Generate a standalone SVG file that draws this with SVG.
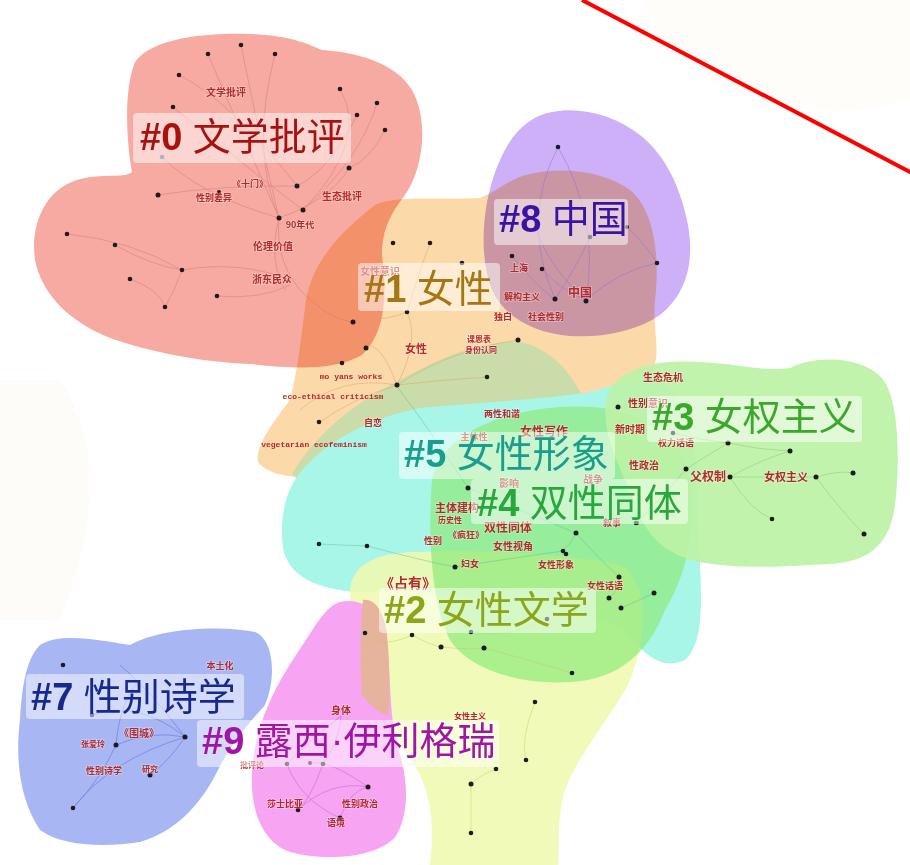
<svg xmlns="http://www.w3.org/2000/svg" width="910" height="865" viewBox="0 0 910 865">
<style>
.hull{stroke:none}
.mul{mix-blend-mode:multiply}
.e{fill:none;stroke-width:0.8;opacity:0.55}
.d{fill:#1c1c1c}
.sl{font-family:"Noto Sans CJK SC",sans-serif;font-weight:bold;fill:#b42a2a;text-anchor:middle;paint-order:stroke;stroke:#fff;stroke-opacity:0.35;stroke-width:1.5}
.en{font-family:"Liberation Mono",monospace;font-weight:bold;font-size:8px;fill:#b42a2a;text-anchor:middle}
.bg{fill:#fff;opacity:0.5}
.cl{font-family:"Liberation Sans","Noto Sans CJK SC",sans-serif;font-size:38px}
.n{font-weight:bold}
</style>
<rect width="910" height="865" fill="#fff"/>
<g id="watermark">
<path d="M0,380 L60,380 Q120,470 60,620 L0,620 Z" fill="#fdfcf8"/>
<path d="M640,0 Q700,120 860,110 L910,100 L910,0 Z" fill="#fefdfa"/>
</g>
<g id="hulls">
<path id="hull-0" class="hull" fill="#f6aaa2" d="M135,62 C150,40 200,32 250,34 C285,35 305,42 322,50 C355,52 395,62 412,90 C428,118 425,165 405,195 C392,212 382,228 382,255 C386,290 388,330 362,355 C332,372 290,368 250,364 C200,362 150,352 110,338 C70,322 42,295 35,260 C30,225 45,185 85,178 C105,174 125,178 132,172 C128,150 122,95 135,62 Z"/>
<path id="hull-8" class="hull" fill="#cdb0f8" d="M552,112 C580,106 615,115 640,135 C665,155 680,185 688,225 C695,265 685,295 660,315 C635,332 600,338 570,336 C535,333 505,318 492,290 C478,255 482,200 500,160 C512,132 530,116 552,112 Z"/>
<path id="hull-1" class="hull mul" fill="#fcd9a9" d="M375,205 C395,195 440,200 480,198 C500,190 510,178 530,174 C565,166 605,172 630,190 C655,210 660,260 655,300 C652,330 662,352 652,372 C640,392 610,398 585,398 C540,420 420,460 330,476 C300,480 268,476 258,462 C255,445 275,420 290,400 C298,370 302,330 306,300 C312,268 330,240 375,205 Z"/>
<path id="hull-band" class="hull" fill="#c9dca9" d="M292,474 C318,430 360,400 400,380 C440,358 480,340 520,342 C550,348 572,372 585,402 L570,440 L320,500 Z"/>
<path id="hull-5" class="hull" fill="#a8f6e8" d="M283,548 C278,510 290,480 307,465 C330,440 370,418 420,408 C480,402 540,400 590,392 C620,385 640,372 655,378 C690,395 700,450 698,520 C700,580 708,640 685,660 C660,672 640,650 625,630 C560,600 430,590 360,592 C315,590 288,575 283,548 Z"/>
<path id="hull-2" class="hull" fill="#eff9ae" opacity="0.88" d="M350,590 C352,565 375,553 415,552 C470,550 560,552 620,565 C650,580 648,640 628,685 C605,725 578,755 565,790 C556,820 560,850 558,865 L430,865 C434,830 432,800 420,775 C405,745 385,730 372,715 C362,700 360,670 360,650 C358,625 350,610 350,590 Z"/>
<path id="hull-4" class="hull" fill="#8eea7a" opacity="0.7" d="M432,480 C440,440 490,412 560,407 C620,403 665,420 685,460 C700,510 690,570 665,610 C650,650 620,680 570,682 C520,685 470,670 450,640 C430,600 428,530 432,480 Z"/>
<path id="hull-3" class="hull" fill="#bdf2a6" opacity="0.92" d="M610,390 C625,365 660,360 700,362 C740,364 765,372 790,368 C815,355 862,356 882,378 C900,400 900,465 895,505 C890,545 868,562 830,564 C790,566 740,570 700,562 C670,556 650,540 640,515 C628,485 612,455 607,430 C604,410 605,398 610,390 Z"/>
<path id="hull-7" class="hull" fill="#a9b6f4" d="M40,645 C60,632 100,640 130,645 C160,628 220,625 255,632 C275,640 276,680 265,705 C250,722 232,742 218,770 C203,800 180,830 140,842 C100,848 60,845 40,830 C20,800 15,760 20,720 C22,690 25,660 40,645 Z"/>
<path id="hull-9" class="hull" fill="#f7a4f2" d="M340,602 C368,596 385,618 388,655 C391,690 390,720 398,748 C408,778 410,812 396,836 C378,858 325,862 290,852 C262,842 250,810 252,772 C254,730 272,690 298,652 C313,630 325,606 340,602 Z"/>
<path id="hull-9-2" class="hull" fill="#e6b49c" d="M363,600 C375,598 384,612 387,635 C390,665 390,695 388,716 C378,712 368,704 362,694 C360,665 360,630 363,600 Z"/>
</g>
<g id="connectors">
<g class="e" stroke="#d0707a">
<path d="M208,54 Q240,130 279,218"/><path d="M241,45 Q260,140 279,218"/><path d="M275,54 Q250,150 279,218"/>
<path d="M179,75 Q230,100 297,186"/><path d="M173,107 Q250,170 303,210"/><path d="M340,89 Q370,140 303,210"/>
<path d="M377,103 Q360,160 303,210"/><path d="M357,115 Q330,170 297,186"/><path d="M385,130 Q370,160 349,168"/>
<path d="M349,168 Q330,200 279,218"/><path d="M162,157 Q200,195 279,218"/><path d="M158,195 Q220,185 297,186"/>
<path d="M279,218 Q275,260 300,290 Q330,320 353,322"/><path d="M67,234 Q130,240 182,270"/><path d="M115,245 Q150,265 182,270"/>
<path d="M130,279 Q160,290 165,307"/><path d="M182,270 Q175,290 165,307"/><path d="M182,270 Q240,260 290,280"/>
<path d="M217,296 Q260,300 290,285"/><path d="M279,218 Q268,260 285,290"/>
</g>
<g class="e" stroke="#8a6ad0">
<path d="M558,147 Q520,220 555,299"/><path d="M558,147 Q600,220 586,300"/><path d="M530,207 Q540,260 586,300"/>
<path d="M590,237 Q575,270 555,299"/><path d="M657,263 Q620,270 586,300"/><path d="M627,227 Q650,250 657,263"/>
<path d="M512,256 Q540,290 555,299"/><path d="M542,269 Q560,290 586,300"/>
</g>
<g class="e" stroke="#e0985a">
<path d="M397,385 Q380,340 366,347"/><path d="M397,385 Q420,340 407,312"/><path d="M397,385 Q350,400 320,422"/>
<path d="M397,385 Q440,380 487,377"/><path d="M397,385 Q340,375 300,410"/><path d="M407,312 Q420,270 430,243"/>
<path d="M353,321 Q390,320 407,312"/><path d="M397,385 Q450,350 518,340"/>
</g>
<g class="e" stroke="#7cc46a">
<path d="M730,477 Q760,460 790,451"/><path d="M730,477 L816,477"/><path d="M816,477 Q840,470 853,473"/>
<path d="M730,477 Q750,510 772,519"/><path d="M816,477 Q840,510 864,534"/><path d="M728,443 Q700,460 686,469"/>
<path d="M728,443 Q760,450 790,451"/><path d="M686,469 Q660,500 636,523"/><path d="M673,433 Q700,440 728,443"/>
</g>
<g class="e" stroke="#5cb894">
<path d="M468,488 Q520,510 576,533"/><path d="M576,533 Q570,545 563,551"/><path d="M455,567 Q500,560 563,551"/>
<path d="M576,533 Q600,560 619,577"/><path d="M609,598 Q620,590 619,577"/><path d="M621,608 Q640,600 654,593"/>
<path d="M319,544 Q340,545 367,546"/><path d="M367,546 Q420,560 455,567"/><path d="M396,385 Q430,430 468,488"/>
</g>
<g class="e" stroke="#c0c860">
<path d="M412,635 Q430,645 441,647"/><path d="M441,647 Q470,650 484,648"/><path d="M471,632 Q510,640 547,618"/>
<path d="M484,648 Q530,660 572,673"/><path d="M535,702 Q520,740 526,760"/><path d="M471,784 L471,833"/>
<path d="M496,769 Q480,775 471,784"/><path d="M365,633 Q380,650 412,635"/>
</g>
<g class="e" stroke="#4a5ad8">
<path d="M185,737 Q150,730 116,745"/><path d="M185,737 Q170,760 150,775"/><path d="M185,737 Q140,700 92,715"/>
<path d="M185,737 Q110,760 73,808"/><path d="M116,745 Q100,780 73,808"/><path d="M185,737 Q150,690 120,665"/>
<path d="M116,745 Q120,700 140,680"/>
</g>
<g class="e" stroke="#c050c8">
<path d="M287,764 Q300,800 340,818"/><path d="M323,764 Q310,800 298,810"/><path d="M298,810 Q330,780 368,787"/>
<path d="M340,818 Q350,790 368,787"/><path d="M310,763 Q330,760 368,787"/><path d="M341,716 Q310,740 287,764"/>
<path d="M341,716 Q340,740 323,764"/>
</g>
</g>
<g id="kw-0">
<g class="d"><circle cx="208" cy="54" r="2.3"/><circle cx="241" cy="45" r="2.3"/><circle cx="275" cy="54" r="2.3"/><circle cx="179" cy="75" r="2.3"/><circle cx="173" cy="107" r="2.3"/><circle cx="340" cy="89" r="2.3"/><circle cx="377" cy="103" r="2.3"/><circle cx="357" cy="115" r="2.3"/><circle cx="385" cy="130" r="2.3"/><circle cx="162" cy="157" r="2.3" fill="#5a6a8a"/><circle cx="349" cy="168" r="2.5"/><circle cx="297" cy="186" r="2.5"/><circle cx="158" cy="195" r="2.5"/><circle cx="303" cy="210" r="2.5"/><circle cx="279" cy="218" r="2.5"/><circle cx="67" cy="234" r="2.3"/><circle cx="115" cy="245" r="2.3"/><circle cx="182" cy="270" r="2.3"/><circle cx="130" cy="279" r="2.3"/><circle cx="217" cy="296" r="2.3"/><circle cx="165" cy="307" r="2.3"/><circle cx="353" cy="322" r="2.5"/><circle cx="366" cy="348" r="2.5"/><circle cx="219" cy="192" r="2"/></g>
<text class="sl" x="226" y="96" font-size="10">文学批评</text>
<text class="sl" x="250" y="187" font-size="9">《十门》</text>
<text class="sl" x="214" y="201" font-size="9">性别差异</text>
<text class="sl" x="342" y="200" font-size="10">生态批评</text>
<text class="sl" x="300" y="228" font-size="9">90年代</text>
<text class="sl" x="273" y="250" font-size="10">伦理价值</text>
<text class="sl" x="272" y="283" font-size="10">浙东民众</text>
</g>
<g id="kw-1">
<g class="d"><circle cx="393" cy="243" r="2.3"/><circle cx="430" cy="243" r="2.3"/><circle cx="462" cy="263" r="2.3"/><circle cx="407" cy="312" r="2.3"/><circle cx="342" cy="363" r="2.3"/><circle cx="518" cy="340" r="2.5"/><circle cx="487" cy="377" r="2.3"/><circle cx="397" cy="385" r="2.5"/><circle cx="319" cy="422" r="2.3"/></g>
<text class="sl" x="380" y="275" font-size="10">女性意识</text>
<text class="sl" x="416" y="353" font-size="11">女性</text>
<text class="sl" x="479" y="342" font-size="8">课思表</text>
<text class="sl" x="481" y="353" font-size="8">身份认同</text>
<text class="en" x="351" y="379">mo yans works</text>
<text class="en" x="333" y="399">eco-ethical criticism</text>
<text class="sl" x="373" y="426" font-size="9">自恋</text>
<text class="en" x="314" y="447">vegetarian ecofeminism</text>
</g>
<g id="kw-8">
<g class="d"><circle cx="558" cy="147" r="2.3"/><circle cx="530" cy="207" r="2"/><circle cx="627" cy="227" r="2"/><circle cx="590" cy="237" r="2.3"/><circle cx="512" cy="256" r="2.3"/><circle cx="657" cy="263" r="2.3"/><circle cx="542" cy="269" r="2.3"/><circle cx="555" cy="299" r="2.5"/><circle cx="586" cy="301" r="2.5"/></g>
<text class="sl" x="519" y="271" font-size="9">上海</text>
<text class="sl" x="522" y="300" font-size="9">解构主义</text>
<text class="sl" x="580" y="297" font-size="12">中国</text>
<text class="sl" x="503" y="320" font-size="9">独白</text>
<text class="sl" x="546" y="320" font-size="9">社会性别</text>
</g>
<g id="kw-3">
<g class="d"><circle cx="618" cy="407" r="2.5"/><circle cx="673" cy="433" r="2.3"/><circle cx="728" cy="443" r="2.5"/><circle cx="790" cy="451" r="2.5"/><circle cx="686" cy="469" r="2.5"/><circle cx="730" cy="477" r="2.5"/><circle cx="816" cy="477" r="2.5"/><circle cx="853" cy="473" r="2.5"/><circle cx="772" cy="519" r="2.3"/><circle cx="864" cy="534" r="2.5"/><circle cx="636" cy="523" r="2.3"/></g>
<text class="sl" x="663" y="381" font-size="10">生态危机</text>
<text class="sl" x="648" y="407" font-size="10">性别意识</text>
<text class="sl" x="630" y="433" font-size="10">新时期</text>
<text class="sl" x="676" y="446" font-size="9">权力话语</text>
<text class="sl" x="644" y="469" font-size="10">性政治</text>
<text class="sl" x="708" y="481" font-size="12">父权制</text>
<text class="sl" x="786" y="481" font-size="11">女权主义</text>
</g>
<g id="kw-5">
<g class="d"><circle cx="468" cy="488" r="2.5"/><circle cx="576" cy="533" r="2.5"/><circle cx="563" cy="551" r="2.3"/><circle cx="566" cy="554" r="2.3"/><circle cx="455" cy="567" r="2.5"/><circle cx="319" cy="544" r="2.3"/><circle cx="367" cy="546" r="2.3"/><circle cx="637" cy="523" r="2"/></g>
<text class="sl" x="502" y="417" font-size="9">两性和谐</text>
<text class="sl" x="544" y="436" font-size="12">女性写作</text>
<text class="sl" x="474" y="440" font-size="9">主体性</text>
<text class="sl" x="509" y="487" font-size="10">影响</text>
<text class="sl" x="593" y="483" font-size="10">战争</text>
<text class="sl" x="457" y="512" font-size="11">主体建构</text>
<text class="sl" x="450" y="523" font-size="8">历史性</text>
<text class="sl" x="508" y="532" font-size="12">双性同体</text>
<text class="sl" x="466" y="538" font-size="9">《疯狂》</text>
<text class="sl" x="433" y="544" font-size="9">性别</text>
<text class="sl" x="513" y="550" font-size="10">女性视角</text>
<text class="sl" x="470" y="567" font-size="9">妇女</text>
<text class="sl" x="556" y="568" font-size="9">女性形象</text>
<text class="sl" x="612" y="526" font-size="9">叙事</text>
<text class="sl" x="605" y="589" font-size="9">女性话语</text>
<text class="sl" x="408" y="588" font-size="14">《占有》</text>
</g>
<g id="kw-2">
<g class="d"><circle cx="619" cy="577" r="2.5"/><circle cx="609" cy="598" r="2.5"/><circle cx="621" cy="608" r="2.5"/><circle cx="654" cy="593" r="2.5"/><circle cx="547" cy="619" r="2.3"/><circle cx="471" cy="632" r="2.3"/><circle cx="412" cy="635" r="2.3"/><circle cx="365" cy="633" r="2.3"/><circle cx="441" cy="647" r="2.5"/><circle cx="484" cy="648" r="2.5"/><circle cx="572" cy="673" r="2.3"/><circle cx="535" cy="702" r="2.3"/><circle cx="526" cy="760" r="2.3"/><circle cx="496" cy="769" r="2.3"/><circle cx="471" cy="784" r="2.5"/><circle cx="471" cy="833" r="2.3"/></g>
<text class="sl" x="470" y="719" font-size="8">女性主义</text>
</g>
<g id="kw-7">
<g class="d"><circle cx="63" cy="665" r="2.3"/><circle cx="92" cy="715" r="2.3"/><circle cx="116" cy="745" r="2.5"/><circle cx="185" cy="737" r="2.5"/><circle cx="150" cy="775" r="2.5"/><circle cx="73" cy="808" r="2.3"/></g>
<text class="sl" x="220" y="669" font-size="9">本土化</text>
<text class="sl" x="139" y="737" font-size="10">《围城》</text>
<text class="sl" x="93" y="747" font-size="8">张爱玲</text>
<text class="sl" x="104" y="774" font-size="9">性别诗学</text>
<text class="sl" x="150" y="772" font-size="8">研究</text>
</g>
<g id="kw-9">
<g class="d"><circle cx="287" cy="764" r="2.3"/><circle cx="310" cy="763" r="2"/><circle cx="323" cy="764" r="2.3"/><circle cx="368" cy="787" r="2.5"/><circle cx="298" cy="810" r="2.3"/><circle cx="340" cy="818" r="2.5"/></g>
<text class="sl" x="341" y="714" font-size="10">身体</text>
<text class="sl" x="252" y="768" font-size="8">批评论</text>
<text class="sl" x="285" y="807" font-size="9">莎士比亚</text>
<text class="sl" x="360" y="807" font-size="9">性别政治</text>
<text class="sl" x="336" y="826" font-size="9">语境</text>
</g>
<g id="cluster-0"><rect class="bg" x="133" y="113" width="218" height="50" rx="4"/><text class="cl" x="140" y="150" fill="#a8120e"><tspan class="n">#0</tspan> 文学批评</text></g>
<g id="cluster-8"><rect class="bg" x="494" y="199" width="134" height="46" rx="4"/><text class="cl" x="499" y="232" fill="#3a12a6"><tspan class="n">#8</tspan> 中国</text></g>
<g id="cluster-1"><rect class="bg" x="358" y="263" width="142" height="48" rx="4"/><text class="cl" x="364" y="302" fill="#a67614"><tspan class="n">#1</tspan> 女性</text></g>
<g id="cluster-3"><rect class="bg" x="647" y="396" width="215" height="46" rx="4"/><text class="cl" x="652" y="430" fill="#3aa82a"><tspan class="n">#3</tspan> 女权主义</text></g>
<g id="cluster-5"><rect class="bg" x="399" y="432" width="216" height="47" rx="4"/><text class="cl" x="404" y="467" fill="#189e8e"><tspan class="n">#5</tspan> 女性形象</text></g>
<g id="cluster-4"><rect class="bg" x="471" y="479" width="217" height="45" rx="4"/><text class="cl" x="477" y="516" fill="#28a83a"><tspan class="n">#4</tspan> 双性同体</text></g>
<g id="cluster-2"><rect class="bg" x="379" y="588" width="217" height="45" rx="4"/><text class="cl" x="384" y="623" fill="#8ca61a"><tspan class="n">#2</tspan> 女性文学</text></g>
<g id="cluster-7"><rect class="bg" x="26" y="674" width="218" height="45" rx="4"/><text class="cl" x="31" y="710" fill="#162a8e"><tspan class="n">#7</tspan> 性别诗学</text></g>
<g id="cluster-9"><rect class="bg" x="197" y="720" width="302" height="47" rx="4"/><text class="cl" x="202" y="754" fill="#a014a6"><tspan class="n">#9</tspan> 露西·伊利格瑞</text></g>
<line id="red-line" x1="582" y1="0" x2="912" y2="173" stroke="#ff0000" stroke-width="4"/>
</svg>
